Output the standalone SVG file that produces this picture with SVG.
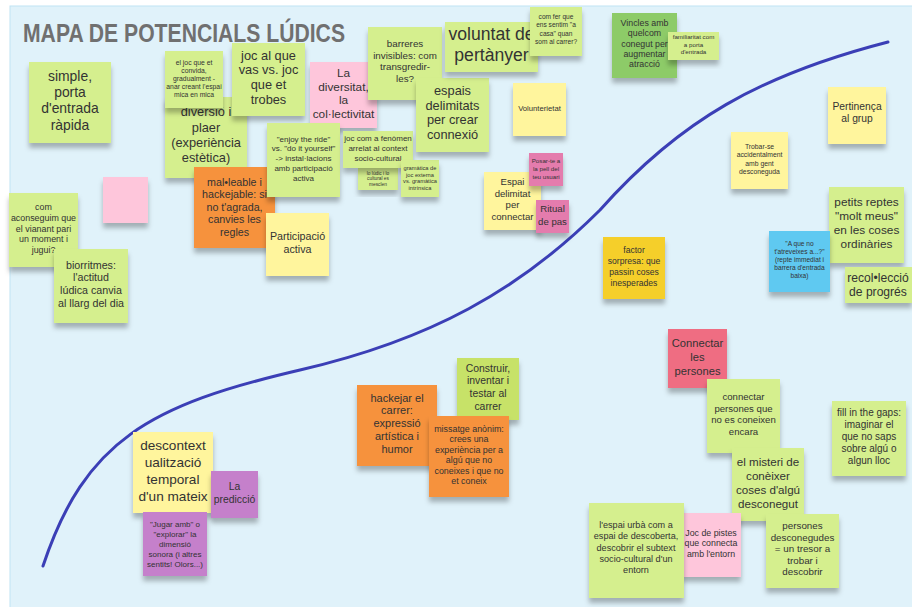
<svg xmlns="http://www.w3.org/2000/svg" width="912" height="607" viewBox="0 0 912 607">
<defs>
<filter id="sh" x="-20%" y="-20%" width="140%" height="150%">
<feDropShadow dx="0" dy="5" stdDeviation="2.5" flood-color="#000" flood-opacity="0.28"/>
</filter>
<style>
.n rect{filter:url(#sh)}
.n text{font-family:"Liberation Sans","Open Sans",sans-serif;fill:#333;text-anchor:middle}
.g{fill:#d5ef8e}.y{fill:#fff59d}.p{fill:#fec6db}.o{fill:#f6923d}.dp{fill:#e47cad}
.pu{fill:#c580cb}.dg{fill:#8dcb67}.g2{fill:#c7e268}.gold{fill:#f5cf2c}.r{fill:#ef6d82}.b{fill:#5ec9f1}
</style>
</defs>
<rect x="0" y="0" width="912" height="607" fill="#ffffff"/>
<rect x="10" y="6" width="904" height="603" fill="#e0f2fa" stroke="#bfe3f4" stroke-width="1"/>
<text transform="translate(23,41.5) scale(1,1.2)" x="0" y="0" font-family="'Liberation Sans',Arial,sans-serif" font-weight="700" font-size="21" fill="#707070" textLength="322" lengthAdjust="spacingAndGlyphs">MAPA DE POTENCIALS LÚDICS</text>
<g id="connectors">
<path d="M43,566 C85,440 150,405 300,370 C430,340 520,290 600,210 C680,120 760,75 888,42" fill="none" stroke="#3b3fb6" stroke-width="3" stroke-linecap="round"/>
</g>

<g id="simple" class="n"><rect class="g" x="29" y="62" width="82" height="81"/><text font-size="13.9"><tspan x="70" y="80.5">simple,</tspan><tspan x="70" y="96.5">porta</tspan><tspan x="70" y="112.5">d'entrada</tspan><tspan x="70" y="129.5">ràpida</tspan></text></g>

<g id="diversio" class="n"><rect class="g" x="165" y="97" width="82" height="81"/><text font-size="12.8"><tspan x="206" y="116">diversió i</tspan><tspan x="206" y="132">plaer</tspan><tspan x="206" y="147">(experiència</tspan><tspan x="206" y="162">estètica)</tspan></text></g>

<g id="joc-convida" class="n"><rect class="g" x="165" y="51" width="58" height="57"/><text font-size="6.8"><tspan x="194" y="65.3">el joc que et</tspan><tspan x="194" y="73.3">convida,</tspan><tspan x="194" y="81.1">gradualment -</tspan><tspan x="194" y="88.8">anar creant l'espai</tspan><tspan x="194" y="96.5">mica en mica</tspan></text></g>

<g id="joc-vas" class="n"><rect class="g" x="232" y="43" width="73" height="73"/><text font-size="12.8"><tspan x="268.5" y="59.5">joc al que</tspan><tspan x="268.5" y="74.3">vas vs. joc</tspan><tspan x="268.5" y="89.1">que et</tspan><tspan x="268.5" y="104">trobes</tspan></text></g>

<g id="diversitat" class="n"><rect class="p" x="310" y="62" width="67" height="66"/><text font-size="11.8"><tspan x="343.5" y="77">La</tspan><tspan x="343.5" y="90.5">diversitat,</tspan><tspan x="343.5" y="104">la</tspan><tspan x="343.5" y="117.5">col·lectivitat</tspan></text></g>

<g id="malleable" class="n"><rect class="o" x="194" y="167" width="81" height="81"/><text font-size="10.7"><tspan x="234.5" y="185.5">mal•leable i</tspan><tspan x="234.5" y="198">hackejable: si</tspan><tspan x="234.5" y="210.5">no t'agrada,</tspan><tspan x="234.5" y="223">canvies les</tspan><tspan x="234.5" y="235.5">regles</tspan></text></g>

<g id="enjoy" class="n"><rect class="g" x="267" y="123" width="73" height="74"/><text font-size="8"><tspan x="303.5" y="141.6">"enjoy the ride"</tspan><tspan x="303.5" y="151.4">vs. "do it yourself"</tspan><tspan x="303.5" y="161.2">-&gt; instal·lacions</tspan><tspan x="303.5" y="171">amb participació</tspan><tspan x="303.5" y="180.8">activa</tspan></text></g>

<g id="participacio" class="n"><rect class="y" x="266" y="213" width="63" height="63"/><text font-size="10.7"><tspan x="297.5" y="239.5">Participació</tspan><tspan x="297.5" y="252.5">activa</tspan></text></g>

<g id="lo-ludic" class="n"><rect class="g" x="358" y="168" width="40" height="22"/><text font-size="4.8"><tspan x="378" y="174.5">lo lúdic i lo</tspan><tspan x="378" y="180">cultural es</tspan><tspan x="378" y="185.6">mesclen</tspan></text></g>

<g id="joc-fenomen" class="n"><rect class="g" x="343" y="131" width="70" height="37"/><text font-size="8"><tspan x="378" y="140.6">joc com a fenòmen</tspan><tspan x="378" y="150.6">arrelat al context</tspan><tspan x="378" y="160.6">socio-cultural</tspan></text></g>

<g id="gramatica" class="n"><rect class="g" x="401" y="160" width="38" height="37"/><text font-size="5.7"><tspan x="420" y="169.8">gramàtica de</tspan><tspan x="420" y="176.5">joc externa</tspan><tspan x="420" y="183.2">vs. gramàtica</tspan><tspan x="420" y="189.9">intrínsica</tspan></text></g>

<g id="barreres" class="n"><rect class="g" x="368" y="27" width="74" height="73"/><text font-size="9.8"><tspan x="405" y="47">barreres</tspan><tspan x="405" y="58.5">invisibles: com</tspan><tspan x="405" y="70">transgredir-</tspan><tspan x="405" y="81.5">les?</tspan></text></g>

<g id="espais" class="n"><rect class="g" x="416" y="78" width="73" height="74"/><text font-size="12.8"><tspan x="452.5" y="95">espais</tspan><tspan x="452.5" y="109.5">delimitats</tspan><tspan x="452.5" y="124">per crear</tspan><tspan x="452.5" y="138.5">connexió</tspan></text></g>

<g id="voluntat" class="n"><rect class="g" x="445" y="22" width="93" height="50"/><text font-size="17.6"><tspan x="491.5" y="40">voluntat de</tspan><tspan x="491.5" y="61">pertànyer</tspan></text></g>

<g id="com-fer" class="n"><rect class="g" x="530" y="7" width="52" height="49"/><text font-size="6.6"><tspan x="556" y="19">com fer que</tspan><tspan x="556" y="27.3">ens sentim "a</tspan><tspan x="556" y="35.6">casa" quan</tspan><tspan x="556" y="43.9">som al carrer?</tspan></text></g>

<g id="volunterietat" class="n"><rect class="y" x="513" y="83" width="53" height="53"/><text font-size="7.7"><tspan x="539.5" y="110.5">Volunterietat</tspan></text></g>

<g id="espai-delimitat" class="n"><rect class="y" x="484" y="172" width="57" height="58"/><text font-size="9.6"><tspan x="512.5" y="185">Espai</tspan><tspan x="512.5" y="196.7">delimitat</tspan><tspan x="512.5" y="208.4">per</tspan><tspan x="512.5" y="220.1">connectar</tspan></text></g>

<g id="posar-te" class="n"><rect class="dp" x="529" y="153" width="34" height="33"/><text font-size="6.2"><tspan x="546" y="163">Posar-te a</tspan><tspan x="546" y="171">la pell del</tspan><tspan x="546" y="179">teu usuari</tspan></text></g>

<g id="ritual" class="n"><rect class="dp" x="536" y="200" width="33" height="33"/><text font-size="9.6"><tspan x="552.5" y="212">Ritual</tspan><tspan x="552.5" y="225">de pas</tspan></text></g>

<g id="vincles" class="n"><rect class="dg" x="612" y="13" width="65" height="65"/><text font-size="8.8"><tspan x="644.5" y="26">Vincles amb</tspan><tspan x="644.5" y="36.3">quelcom</tspan><tspan x="644.5" y="46.6">conegut per</tspan><tspan x="644.5" y="56.9">augmentar</tspan><tspan x="644.5" y="67.2">atracció</tspan></text></g>

<g id="familiaritat" class="n"><rect class="g" x="668" y="32" width="51" height="28"/><text font-size="6.2"><tspan x="693.5" y="39">familiaritat com</tspan><tspan x="693.5" y="46.5">a porta</tspan><tspan x="693.5" y="54">d'entrada</tspan></text></g>

<g id="pertinenca" class="n"><rect class="y" x="828" y="87" width="58" height="57"/><text font-size="10.3"><tspan x="857" y="110.4">Pertinença</tspan><tspan x="857" y="122.4">al grup</tspan></text></g>

<g id="trobar-se" class="n"><rect class="y" x="731" y="132" width="57" height="57"/><text font-size="6.8"><tspan x="759.5" y="149">Trobar-se</tspan><tspan x="759.5" y="157.3">accidentalment</tspan><tspan x="759.5" y="165.6">amb gent</tspan><tspan x="759.5" y="173.9">desconeguda</tspan></text></g>

<g id="petits-reptes" class="n"><rect class="g" x="829" y="187" width="75" height="76"/><text font-size="11.8"><tspan x="866.5" y="206">petits reptes</tspan><tspan x="866.5" y="220">"molt meus"</tspan><tspan x="866.5" y="234">en les coses</tspan><tspan x="866.5" y="248">ordinàries</tspan></text></g>

<g id="a-que-no" class="n"><rect class="b" x="769" y="231" width="61" height="61"/><text font-size="6.6"><tspan x="799.5" y="246">"A que no</tspan><tspan x="799.5" y="254">t'atreveixes a...?"</tspan><tspan x="799.5" y="262">(repte immediat i</tspan><tspan x="799.5" y="270">barrera d'entrada</tspan><tspan x="799.5" y="278">baixa)</tspan></text></g>

<g id="recollecio" class="n"><rect class="g" x="845" y="267" width="67" height="36"/><text font-size="12.1"><tspan x="878" y="282">recol•lecció</tspan><tspan x="878" y="295.5">de progrés</tspan></text></g>

<g id="com-aconseguim" class="n"><rect class="g" x="9" y="193" width="69" height="74"/><text font-size="8.9"><tspan x="43.5" y="210">com</tspan><tspan x="43.5" y="220.8">aconseguim que</tspan><tspan x="43.5" y="231.6">el vianant pari</tspan><tspan x="43.5" y="242.4">un moment i</tspan><tspan x="43.5" y="253.2">jugui?</tspan></text></g>

<g id="biorritmes" class="n"><rect class="g" x="54" y="249" width="74" height="74"/><text font-size="10.7"><tspan x="91" y="268.5">biorritmes:</tspan><tspan x="91" y="281.2">l'actitud</tspan><tspan x="91" y="293.9">lúdica canvia</tspan><tspan x="91" y="306.6">al llarg del dia</tspan></text></g>

<g id="pink-blank" class="n"><rect class="p" x="103" y="177" width="45" height="46"/></g>

<g id="factor-sorpresa" class="n"><rect class="gold" x="603" y="237" width="62" height="62"/><text font-size="8.6"><tspan x="634" y="253">factor</tspan><tspan x="634" y="264">sorpresa: que</tspan><tspan x="634" y="275">passin coses</tspan><tspan x="634" y="286">inesperades</tspan></text></g>

<g id="connectar" class="n"><rect class="r" x="668" y="329" width="59" height="59"/><text font-size="11.2"><tspan x="697.5" y="347">Connectar</tspan><tspan x="697.5" y="361">les</tspan><tspan x="697.5" y="375">persones</tspan></text></g>

<g id="connectar-persones" class="n"><rect class="g" x="707" y="379" width="73" height="74"/><text font-size="9.6"><tspan x="743.5" y="400">connectar</tspan><tspan x="743.5" y="411.7">persones que</tspan><tspan x="743.5" y="423.4">no es coneixen</tspan><tspan x="743.5" y="435.1">encara</tspan></text></g>

<g id="misteri" class="n"><rect class="g" x="732" y="448" width="72" height="73"/><text font-size="11.6"><tspan x="768" y="466">el misteri de</tspan><tspan x="768" y="480">conèixer</tspan><tspan x="768" y="494">coses d'algú</tspan><tspan x="768" y="508">desconegut</tspan></text></g>

<g id="fill-gaps" class="n"><rect class="g" x="832" y="401" width="74" height="75"/><text font-size="10"><tspan x="869" y="416">fill in the gaps:</tspan><tspan x="869" y="428">imaginar el</tspan><tspan x="869" y="440">que no saps</tspan><tspan x="869" y="452">sobre algú o</tspan><tspan x="869" y="464">algun lloc</tspan></text></g>

<g id="joc-pistes" class="n"><rect class="p" x="682" y="513" width="59" height="64"/><text font-size="8.8"><tspan x="711" y="535.5">Joc de pistes</tspan><tspan x="711" y="546">que connecta</tspan><tspan x="711" y="556.5">amb l'entorn</tspan></text></g>

<g id="espai-urba" class="n"><rect class="g" x="589" y="503" width="95" height="95"/><text font-size="9.1"><tspan x="636" y="528">l'espai urbà com a</tspan><tspan x="636" y="539.3">espai de descoberta,</tspan><tspan x="636" y="550.6">descobrir el subtext</tspan><tspan x="636" y="561.9">socio-cultural d'un</tspan><tspan x="636" y="573.2">entorn</tspan></text></g>

<g id="persones-desconegudes" class="n"><rect class="g" x="766" y="514" width="73" height="74"/><text font-size="9.8"><tspan x="802.5" y="529">persones</tspan><tspan x="802.5" y="540.5">desconegudes</tspan><tspan x="802.5" y="552">= un tresor a</tspan><tspan x="802.5" y="563.5">trobar i</tspan><tspan x="802.5" y="575">descobrir</tspan></text></g>

<g id="construir" class="n"><rect class="g2" x="457" y="358" width="62" height="62"/><text font-size="10.4"><tspan x="488" y="371.5">Construir,</tspan><tspan x="488" y="384.2">inventar i</tspan><tspan x="488" y="396.9">testar al</tspan><tspan x="488" y="409.6">carrer</tspan></text></g>

<g id="hackejar" class="n"><rect class="o" x="357" y="385" width="80" height="81"/><text font-size="11"><tspan x="397" y="401.6">hackejar el</tspan><tspan x="397" y="414.4">carrer:</tspan><tspan x="397" y="427.2">expressió</tspan><tspan x="397" y="440">artística i</tspan><tspan x="397" y="452.8">humor</tspan></text></g>

<g id="missatge" class="n"><rect class="o" x="429" y="416" width="80" height="81"/><text font-size="8.9"><tspan x="469" y="432">missatge anònim:</tspan><tspan x="469" y="442.4">crees una</tspan><tspan x="469" y="452.8">experiència per a</tspan><tspan x="469" y="463.2">algú que no</tspan><tspan x="469" y="473.6">coneixes i que no</tspan><tspan x="469" y="484">et coneix</tspan></text></g>

<g id="descontext" class="n"><rect class="y" x="133" y="432" width="80" height="81"/><text font-size="13.6"><tspan x="173" y="450">descontext</tspan><tspan x="173" y="467">ualització</tspan><tspan x="173" y="484">temporal</tspan><tspan x="173" y="501">d'un mateix</tspan></text></g>

<g id="prediccio" class="n"><rect class="pu" x="211" y="471" width="47" height="47"/><text font-size="10.4"><tspan x="234.5" y="490">La</tspan><tspan x="234.5" y="502.5">predicció</tspan></text></g>

<g id="jugar-amb" class="n"><rect class="pu" x="143" y="512" width="64" height="64"/><text font-size="8"><tspan x="175" y="527">"Jugar amb" o</tspan><tspan x="175" y="537">"explorar" la</tspan><tspan x="175" y="547">dimensió</tspan><tspan x="175" y="557">sonora (i altres</tspan><tspan x="175" y="567">sentits! Olors...)</tspan></text></g>
</svg>
